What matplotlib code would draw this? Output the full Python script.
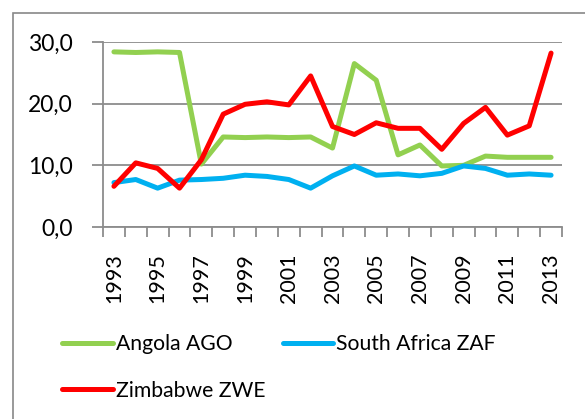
import numpy as np
import matplotlib.pyplot as plt
from matplotlib.patches import Rectangle

# Données
years = list(range(1993, 2014))
angola = [28.4, 28.3, 28.4, 28.3, 10.2, 14.6, 14.5, 14.6, 14.5, 14.6, 12.8,
          26.5, 23.8, 11.7, 13.3, 9.9, 10.0, 11.5, 11.3, 11.3, 11.3]
south_africa = [7.2, 7.7, 6.3, 7.6, 7.7, 7.9, 8.4, 8.2, 7.7, 6.3, 8.3,
                9.9, 8.4, 8.6, 8.3, 8.7, 9.9, 9.5, 8.4, 8.6, 8.4]
zimbabwe = [6.6, 10.4, 9.5, 6.3, 10.9, 18.3, 19.9, 20.3, 19.8, 24.5, 16.3,
            15.0, 16.9, 16.0, 16.0, 12.6, 16.8, 19.4, 14.9, 16.4, 28.2]
labels = ["Angola AGO", "South Africa ZAF", "Zimbabwe ZWE"]
colors = ["#92D050", "#00B0F0", "#FF0000"]
yticks = [0, 10, 20, 30]

plt.rcParams['font.family'] = ['Lato', 'DejaVu Sans']

fig = plt.figure(figsize=(5.85, 4.19), dpi=100)
ax = fig.add_axes([103 / 585, 1 - 227 / 419, (562 - 103) / 585, (227 - 42) / 419])

# cadre gris autour du graphique
fig.patches.append(Rectangle((13 / 585, -0.1), 1.2, 1.1 - 13 / 419,
                             transform=fig.transFigure, fill=False,
                             edgecolor="#888888", linewidth=1.2))

x = np.arange(len(years))
lines = []
for serie, lab, col in zip([angola, south_africa, zimbabwe], labels, colors):
    ln, = ax.plot(x, serie, color=col, linewidth=3.6, label=lab,
                  solid_capstyle='round', solid_joinstyle='round', zorder=3)
    lines.append(ln)

ax.set_xlim(-0.5, len(years) - 0.5)
ax.set_ylim(0, 30)
ax.set_yticks(yticks)
ax.set_yticklabels([f"{v:.1f}".replace(".", ",") for v in yticks], fontsize=16.5)
ax.yaxis.grid(True, color="#8c8c8c", linewidth=1.3)
ax.set_axisbelow(True)

ax.set_xticks(x[::2])
ax.set_xticklabels([str(y) for y in years[::2]], rotation=90, fontsize=15.5)
ax.set_xticks(np.arange(-0.5, len(years), 1), minor=True)
ax.tick_params(axis='x', which='major', length=0, pad=19)
ax.tick_params(axis='x', which='minor', length=7, color="#8c8c8c", width=1.3)
ax.tick_params(axis='y', length=8, color="#8c8c8c", width=1.3, pad=14)

for side in ['top', 'right']:
    ax.spines[side].set_visible(False)
for side in ['left', 'bottom']:
    ax.spines[side].set_color("#8c8c8c")
    ax.spines[side].set_linewidth(1.3)

# ordre ligne par ligne comme dans l'original
order = [0, 2, 1]
fig.legend([lines[i] for i in order], [labels[i] for i in order],
           loc='upper left', bbox_to_anchor=(54 / 585, 1 - 326 / 419), ncol=2,
           frameon=False, fontsize=15.2, handlelength=2.4, handletextpad=0.15,
           columnspacing=0.8, labelspacing=1.25, borderaxespad=0)

fig.savefig("out.png", dpi=100)
